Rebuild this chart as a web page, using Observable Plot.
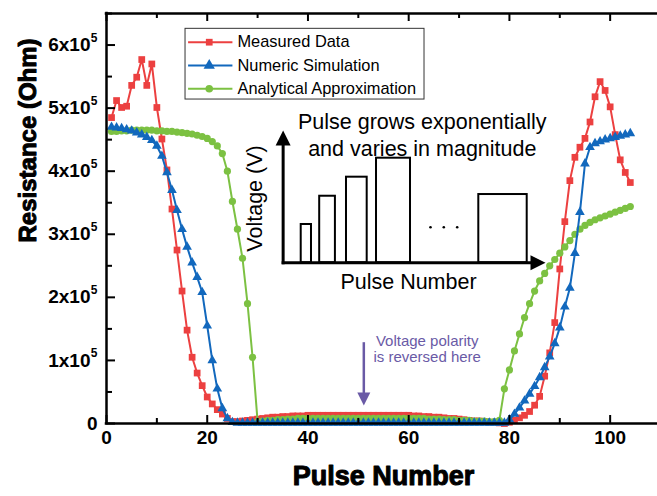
<!DOCTYPE html>
<html><head><meta charset="utf-8">
<script src="https://cdn.jsdelivr.net/npm/d3@7"></script>
<script src="https://cdn.jsdelivr.net/npm/@observablehq/plot@0.6"></script>
<style>html,body{margin:0;padding:0;background:#fff;} svg{display:block;}</style>
</head><body><div id="chart"></div>
<script>
// Resistance values in units of 10^5 Ohm, pulse 1..104
const measured = [4.85,5.12,5.01,5.03,5.36,5.49,5.77,5.36,5.70,5.01,4.51,4.02,3.40,2.75,2.10,1.48,1.05,0.80,0.60,0.42,0.31,0.22,0.15,0.08,0.03,
0.03,0.04,0.05,0.06,0.07,0.08,0.09,0.10,0.10,0.11,0.11,0.12,0.12,0.12,0.13,
0.13,0.13,0.13,0.13,0.13,0.13,0.13,0.13,0.13,0.13,0.13,0.13,0.13,0.13,0.13,0.13,0.13,0.13,0.13,0.13,
0.12,0.12,0.11,0.11,0.10,0.10,0.09,0.08,0.08,0.07,0.06,0.05,0.04,0.04,0.03,0.02,0.02,0.01,
0.00,0.02,0.05,0.09,0.13,0.19,0.29,0.43,0.75,1.12,1.60,2.45,3.20,3.85,4.22,4.38,4.52,4.78,5.18,5.42,5.28,5.02,4.58,4.18,3.98,3.82];
const numeric = [4.70,4.69,4.68,4.66,4.64,4.61,4.58,4.54,4.49,4.40,4.24,3.98,3.70,3.38,3.08,2.80,2.55,2.32,2.08,1.55,1.00,0.55,0.24,0.08,0.02,
0.01,0.01,0.01,0.01,0.01,0.01,0.01,0.01,0.01,0.01,0.01,0.01,0.01,0.01,0.01,0.01,0.01,0.01,0.01,0.01,0.01,0.01,0.01,0.01,0.01,0.01,0.01,0.01,
0.01,0.01,0.01,0.01,0.01,0.01,0.01,0.01,0.01,0.01,0.01,0.01,0.01,0.01,0.01,0.01,0.01,0.01,0.01,0.01,0.01,0.01,0.01,0.01,0.01,0.01,
0.06,0.15,0.25,0.36,0.47,0.59,0.73,0.89,1.06,1.27,1.52,1.85,2.15,2.70,3.35,4.12,4.38,4.44,4.47,4.50,4.52,4.54,4.56,4.58,4.60,4.62];
const analytical = [4.63,4.63,4.64,4.64,4.65,4.65,4.65,4.65,4.65,4.64,4.64,4.63,4.63,4.62,4.61,4.60,4.59,4.57,4.55,4.52,4.47,4.40,4.28,4.00,3.52,3.08,2.62,1.90,1.05,0.03,
0.04,0.05,0.05,0.06,0.06,0.07,0.07,
0.08,0.08,0.08,0.08,0.08,0.08,0.08,0.08,0.08,0.08,0.08,0.08,0.08,0.08,0.08,0.08,0.08,0.08,0.08,0.08,0.08,0.08,0.08,0.08,0.08,
0.08,0.07,0.07,0.07,0.06,0.06,0.06,0.05,0.05,0.05,0.04,0.04,0.04,0.03,0.03,0.05,
0.55,0.85,1.15,1.42,1.68,1.90,2.10,2.26,2.38,2.50,2.60,2.70,2.80,2.90,3.00,3.08,3.14,3.19,3.23,3.26,3.29,3.32,3.35,3.38,3.41,3.44];
const pulses = measured.map((_, i) => i + 1);

const seriesNames = ["Measured Data", "Numeric Simulation", "Analytical Approximation"];
const xTickValues = [0, 20, 40, 60, 80, 100];
const xMinorTicks = [10, 30, 50, 70, 90];
const yTickValues = [0, 1, 2, 3, 4, 5, 6];
const yMinorTicks = [0.5, 1.5, 2.5, 3.5, 4.5, 5.5, 6.5];
const insetPulseHeights = [3.155, 3.603, 3.905, 4.206, 3.63];

// layout / style
const W = 657, H = 496, mL = 106, mR = 0, mT = 13, mB = 73;
const fw = W - mL - mR, fh = H - mT - mB;
const RED = "#ec4040", BLUE = "#1268bd", GREEN = "#7cc142", PURPLE = "#6a5aa6";
const FONT = "'Liberation Sans', Arial, sans-serif";

const toRows = vals => vals.map((v, i) => ({pulse: pulses[i], r: v}));
const dRed = toRows(measured), dBlue = toRows(numeric), dGreen = toRows(analytical);

// arrow-head symbol with its tip at the origin, pointing up
const head = (w, h) => ({draw(ctx) { ctx.moveTo(0, 0); ctx.lineTo(-w / 2, h); ctx.lineTo(w / 2, h); ctx.closePath(); }});

// inset geometry (annotation, in chart coordinates)
const inset = {
  ax: 35.07, base: 2.548, yTip: 4.645, xTip: 87.16,
  barX1: [38.66, 42.33, 47.65, 53.61, 73.92],
  barX2: [40.70, 45.45, 51.76, 60.36, 83.53],
  dotsX: [64.33, 66.97, 69.63], dotsY: 3.112
};
const insetBars = insetPulseHeights.map((h, i) => ({x1: inset.barX1[i], x2: inset.barX2[i], h}));

const legend = {x1: 15.69, x2: 63.14, y1: 5.136, y2: 6.257, lx1: 16.2, lx2: 25.0, mx: 20.4, tx: 26.0, rows: [6.045, 5.675, 5.306]};

const marks = [];
// data
marks.push(Plot.line(dRed, {x: "pulse", y: "r", stroke: RED, strokeWidth: 2}));
marks.push(Plot.dot(dRed, {x: "pulse", y: "r", symbol: "square", r: 3.8, fill: RED, stroke: "none"}));
marks.push(Plot.line(dGreen, {x: "pulse", y: "r", stroke: GREEN, strokeWidth: 2}));
marks.push(Plot.dot(dGreen, {x: "pulse", y: "r", symbol: "circle", r: 3.6, fill: GREEN, stroke: "none"}));
marks.push(Plot.line(dBlue, {x: "pulse", y: "r", stroke: BLUE, strokeWidth: 2}));
marks.push(Plot.dot(dBlue, {x: "pulse", y: "r", symbol: "triangle", r: 3.6, fill: BLUE, stroke: "none"}));

// frame
marks.push(Plot.ruleX([0], {strokeWidth: 2.5, stroke: "black", y1: 0, y2: 6.5, strokeLinecap: "square"}));
marks.push(Plot.ruleY([0, 6.5], {strokeWidth: 2.5, stroke: "black", x1: 0, x2: 109.4, strokeLinecap: "square"}));
// inward ticks
marks.push(Plot.tickX(xTickValues, {x: d => d, insetTop: fh - 8, strokeWidth: 2}));
marks.push(Plot.tickX(xMinorTicks, {x: d => d, insetTop: fh - 5, strokeWidth: 2}));
marks.push(Plot.tickX(xTickValues, {x: d => d, insetBottom: fh - 8, strokeWidth: 2}));
marks.push(Plot.tickX(xMinorTicks, {x: d => d, insetBottom: fh - 5, strokeWidth: 2}));
marks.push(Plot.tickY(yTickValues, {y: d => d, insetRight: fw - 9, strokeWidth: 2}));
marks.push(Plot.tickY(yMinorTicks, {y: d => d, insetRight: fw - 6, strokeWidth: 2}));
// tick labels
marks.push(Plot.text(xTickValues, {x: d => d, text: d => String(d), frameAnchor: "bottom", dy: 20, fontSize: 19, fontWeight: "bold", fill: "black"}));
marks.push(Plot.text(yTickValues.filter(d => d > 0), {y: d => d, text: d => `${d}x10`, frameAnchor: "left", dx: -16, textAnchor: "end", fontSize: 19, fontWeight: "bold", fill: "black"}));
marks.push(Plot.text(yTickValues.filter(d => d > 0), {y: d => d, text: () => "5", frameAnchor: "left", dx: -9, dy: -7, textAnchor: "end", fontSize: 12, fontWeight: "bold", fill: "black"}));
marks.push(Plot.text([0], {y: d => d, text: () => "0", frameAnchor: "left", dx: -9, textAnchor: "end", fontSize: 19, fontWeight: "bold", fill: "black"}));
// axis titles
marks.push(Plot.text(["Pulse Number"], {text: d => d, frameAnchor: "bottom", dy: 61.5, dx: 1.5, fontSize: 27, fontWeight: 900, fill: "black", stroke: "black", strokeWidth: 1}));
marks.push(Plot.text(["Resistance (Ohm)"], {text: d => d, frameAnchor: "left", dx: -78, dy: 24, rotate: -90, fontSize: 24, fontWeight: 900, fill: "black", stroke: "black", strokeWidth: 1}));

// legend
marks.push(Plot.rect([legend], {x1: "x1", x2: "x2", y1: "y1", y2: "y2", fill: "white", stroke: "#333", strokeWidth: 1}));
const legendStyles = [[RED, "square", 3.8], [BLUE, "triangle", 4.2], [GREEN, "circle", 3.8]];
seriesNames.forEach((name, i) => {
  const [c, sym, r] = legendStyles[i];
  const row = [{y: legend.rows[i], name}];
  marks.push(Plot.link(row, {x1: legend.lx1, x2: legend.lx2, y1: "y", y2: "y", stroke: c, strokeWidth: 2}));
  marks.push(Plot.dot(row, {x: legend.mx, y: "y", symbol: sym, r, fill: c, stroke: "none"}));
  marks.push(Plot.text(row, {x: legend.tx, y: "y", text: "name", textAnchor: "start", fontSize: 16.4, fill: "black"}));
});

// inset drawing
marks.push(Plot.rect(insetBars, {x1: "x1", x2: "x2", y1: inset.base, y2: "h", fill: "white", stroke: "black", strokeWidth: 2}));
marks.push(Plot.dot(inset.dotsX, {x: d => d, y: inset.dotsY, r: 1.3, fill: "black", stroke: "none"}));
marks.push(Plot.link([0], {x1: inset.ax, x2: inset.ax, y1: inset.base, y2: inset.yTip - 0.2, stroke: "black", strokeWidth: 3, strokeLinecap: "square"}));
marks.push(Plot.link([0], {x1: inset.ax, x2: inset.xTip - 2.7, y1: inset.base, y2: inset.base, stroke: "black", strokeWidth: 3, strokeLinecap: "square"}));
marks.push(Plot.dot([0], {x: inset.ax, y: inset.yTip, symbol: head(15, 15), r: 5, fill: "black", stroke: "none"}));
marks.push(Plot.dot([0], {x: inset.xTip, y: inset.base, symbol: head(15, 15), rotate: 90, r: 5, fill: "black", stroke: "none"}));
marks.push(Plot.text(["Pulse grows exponentially"], {text: d => d, x: 62.7, y: 4.777, fontSize: 21.5, fill: "black"}));
marks.push(Plot.text(["and varies in magnitude"], {text: d => d, x: 62.7, y: 4.358, fontSize: 21.5, fill: "black"}));
marks.push(Plot.text(["Pulse Number"], {text: d => d, x: 59.96, y: 2.244, fontSize: 21.5, fill: "black"}));
marks.push(Plot.text(["Voltage (V)"], {text: d => d, x: 29.58, y: 3.567, rotate: -90, fontSize: 21.5, fill: "black"}));

// polarity annotation
marks.push(Plot.link([0], {x1: 51.09, x2: 51.09, y1: 1.289, y2: 0.45, stroke: PURPLE, strokeWidth: 2.5}));
marks.push(Plot.dot([0], {x: 51.09, y: 0.285, symbol: head(13, 13), rotate: 180, r: 5, fill: PURPLE, stroke: "none"}));
marks.push(Plot.text(["Voltage polarity"], {text: d => d, x: 63.67, y: 1.31, fontSize: 15, fill: PURPLE}));
marks.push(Plot.text(["is reversed here"], {text: d => d, x: 63.67, y: 1.048, fontSize: 15, fill: PURPLE}));

const chart = Plot.plot({
  width: W, height: H,
  marginLeft: mL, marginRight: mR, marginTop: mT, marginBottom: mB,
  x: {domain: [0, 109.4], axis: null},
  y: {domain: [0, 6.5], axis: null},
  style: {fontFamily: FONT, background: "white", overflow: "visible"},
  marks
});
document.getElementById("chart").append(chart);
</script>
</body></html>
